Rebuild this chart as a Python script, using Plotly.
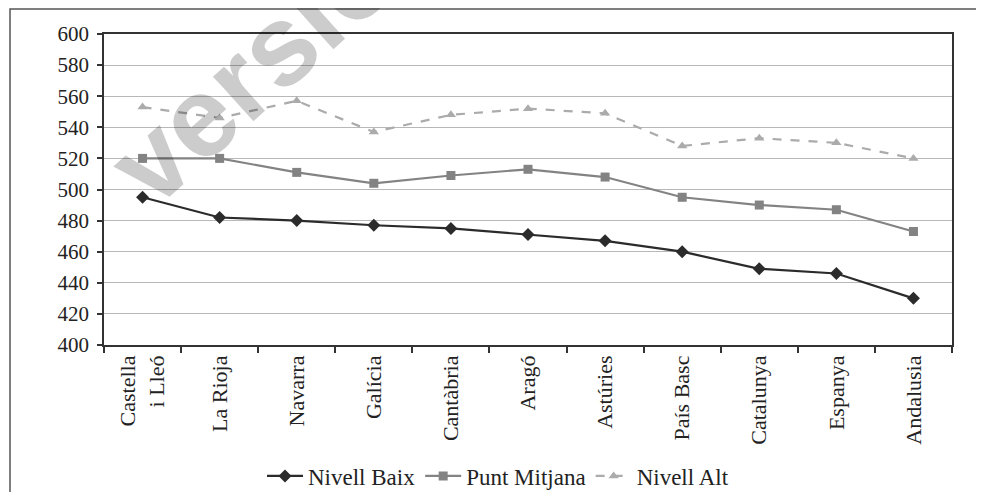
import plotly.graph_objects as go

categories = ["Castella<br>i Lleó", "La Rioja", "Navarra", "Galícia", "Cantàbria",
              "Aragó", "Astúries", "País Basc", "Catalunya", "Espanya", "Andalusia"]
nivell_baix = [495, 482, 480, 477, 475, 471, 467, 460, 449, 446, 430]
punt_mitjana = [520, 520, 511, 504, 509, 513, 508, 495, 490, 487, 473]
nivell_alt = [553, 546, 557, 537, 548, 552, 549, 528, 533, 530, 520]
y_ticks = [400, 420, 440, 460, 480, 500, 520, 540, 560, 580, 600]

FONT = "Liberation Serif, Times New Roman, serif"
OFF = 8  # the page body has an 8px margin
W, H = 984 - OFF, 492 - OFF
# plot area in page pixels: x 104..952, y 34..345
L, R, T, B = 104 - OFF, 984 - 952, 34 - OFF, 492 - 345
pw, ph = W - L - R, H - T - B


def px(x):  # page pixel -> paper x
    return (x - OFF - L) / pw


def py(y):  # page pixel -> paper y
    return (H - B - (y - OFF)) / ph


fig = go.Figure()
fig.add_trace(go.Scatter(
    x=categories, y=nivell_baix, name="Nivell Baix", mode="lines+markers",
    line=dict(color="#2b2b2b", width=2.2),
    marker=dict(symbol="diamond", size=10, color="#2b2b2b")))
fig.add_trace(go.Scatter(
    x=categories, y=punt_mitjana, name="Punt Mitjana", mode="lines+markers",
    line=dict(color="#838383", width=2.2),
    marker=dict(symbol="square", size=9, color="#838383")))
fig.add_trace(go.Scatter(
    x=categories, y=nivell_alt, name="Nivell Alt", mode="lines+markers",
    line=dict(color="#ababab", width=2.2, dash="dash"),
    marker=dict(symbol="triangle-up", size=9, color="#ababab")))

fig.update_layout(
    width=W, height=H,
    margin=dict(l=L, r=R, t=T, b=B, pad=0, autoexpand=False),
    paper_bgcolor="white", plot_bgcolor="white",
    font=dict(family=FONT, size=20, color="#222222"),
    showlegend=True,
    legend=dict(orientation="h", x=px(498), xanchor="center", y=py(476), yanchor="middle",
                font=dict(family=FONT, size=23, color="#222222"),
                bgcolor="rgba(0,0,0,0)", itemwidth=36, tracegroupgap=0),
    xaxis=dict(type="category", range=[-0.5, 10.5], tickangle=-90,
               showgrid=False, showline=True, linecolor="#333333", linewidth=1.5,
               mirror=True, ticks="outside", tickson="boundaries", ticklen=6,
               tickcolor="#333333", tickwidth=1.5, automargin=False,
               tickfont=dict(family=FONT, size=22, color="#222222")),
    yaxis=dict(range=[400, 600], tickvals=y_ticks, showgrid=True,
               gridcolor="#b8b8b8", gridwidth=1.2,
               showline=True, linecolor="#333333", linewidth=1.5, mirror=True,
               ticks="outside", ticklen=5, tickcolor="#333333", tickwidth=1.5,
               zeroline=False, automargin=False, ticklabelstandoff=4,
               tickfont=dict(family=FONT, size=21, color="#222222")),
)

# outer frame (cut off at right and bottom in the reference)
fig.add_shape(type="rect", xref="paper", yref="paper",
              x0=px(10), x1=px(1010), y0=py(530), y1=py(9),
              line=dict(color="#555555", width=1.5), fillcolor="rgba(0,0,0,0)",
              layer="below")

# watermark (runs off the top edge in the reference)
fig.add_annotation(text="<b>versió</b>", xref="paper", yref="paper",
                   x=px(252), y=py(70), xanchor="center", yanchor="middle",
                   showarrow=False, textangle=-42,
                   font=dict(family="Liberation Sans", size=114, color="rgba(0,0,0,0.2)"))

fig.write_html("out.html")
